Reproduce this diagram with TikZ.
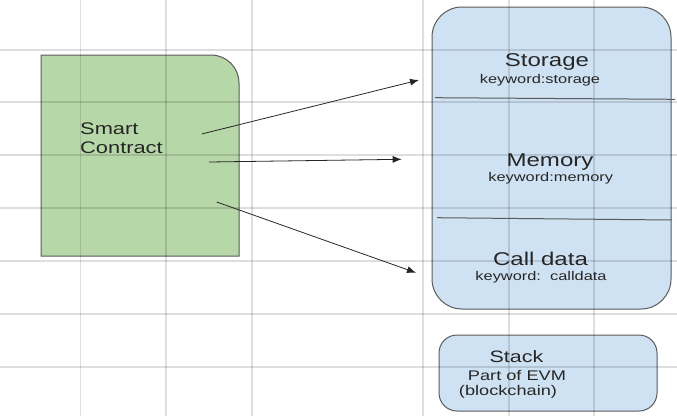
\documentclass[tikz,border=0pt]{standalone}
\usepackage{fontspec}
\setmainfont[FakeStretch=1.3]{Liberation Sans}
\usetikzlibrary{arrows.meta}
\definecolor{ctgreen}{HTML}{B6D7A8}
\definecolor{evmblue}{HTML}{CFE2F3}
\definecolor{edgegray}{HTML}{5A5A5A}
\definecolor{inkgray}{HTML}{262626}

\begin{document}
\begin{tikzpicture}[x=1pt,y=-1pt,
  boxline/.style={draw=edgegray,line width=1pt},
  gridline/.style={draw=black,opacity=0.13,line width=1.2pt},
  bigtext/.style={text=inkgray,font=\fontsize{18.5}{20}\selectfont,inner sep=0pt,anchor=base},
  smalltext/.style={text=inkgray,font=\fontsize{12.6}{14}\selectfont,inner sep=0pt,anchor=base},
  flow/.style={draw=inkgray,line width=0.8pt,-{Latex[length=9pt,width=7pt]}}]
  \useasboundingbox (0,0) rectangle (677,416);
  % smart contract box
  \draw[boxline,fill=ctgreen] (41,256) -- (41,55) -- (211,55)
    .. controls (226.5,55) and (239,67.5) .. (239,83) -- (239,256) -- cycle;
  % data areas
  \node[boxline,fill=evmblue,rounded corners=30pt,minimum width=239pt,
    minimum height=302pt,inner sep=0pt] (area) at (551.5,158) {};
  \node[boxline,fill=evmblue,rounded corners=18pt,minimum width=218pt,
    minimum height=76pt,inner sep=0pt] (stackbox) at (548,373) {};
  % grid
  \foreach \gx in {80.6,166,252,423,509,594}
    \draw[gridline] (\gx,0) -- (\gx,416);
  \foreach \gy in {50,102,155,208,261,314,367}
    \draw[gridline] (0,\gy) -- (677,\gy);
  % dividers
  \coordinate (d1a) at (435,97.7);
  \coordinate (d1b) at (675,99.3);
  \coordinate (d2a) at (437,217.7);
  \coordinate (d2b) at (672,220);
  \draw[boxline] (d1a) -- (d1b);
  \draw[boxline] (d2a) -- (d2b);
  % labels
  \node[bigtext,font=\fontsize{16.8}{20}\selectfont,anchor=base west] (smart) at (80,134.3) {Smart};
  \node[bigtext,font=\fontsize{16.8}{20}\selectfont,anchor=base west] (contract) at (80,153) {Contract};
  \node[bigtext] (storage) at (547,66.5) {Storage};
  \node[smalltext] (storagekw) at (540,83) {keyword:storage};
  \node[bigtext] (memory) at (550,166) {Memory};
  \node[smalltext] (memorykw) at (550.7,181.5) {keyword:memory};
  \node[bigtext] (calldata) at (540.5,265) {Call data};
  \node[smalltext] (calldatakw) at (541,280) {keyword:\ \ calldata};
  \node[bigtext,font=\fontsize{16.5}{18}\selectfont] (stack) at (516.5,362.7) {Stack};
  \node[bigtext,font=\fontsize{14}{16}\selectfont] (evmpart) at (517,380.7) {Part of EVM};
  \node[bigtext,font=\fontsize{14}{16}\selectfont] (chain) at (508,395) {(blockchain)};
  % arrows
  \coordinate (s1) at (201.7,134);
  \coordinate (e1) at (419,80);
  \coordinate (s2) at (209,162);
  \coordinate (e2) at (401.7,159.3);
  \coordinate (s3) at (216.7,202);
  \coordinate (e3) at (416,272.7);
  \draw[flow] (s1) -- (e1);
  \draw[flow] (s2) -- (e2);
  \draw[flow] (s3) -- (e3);
\end{tikzpicture}
\end{document}
